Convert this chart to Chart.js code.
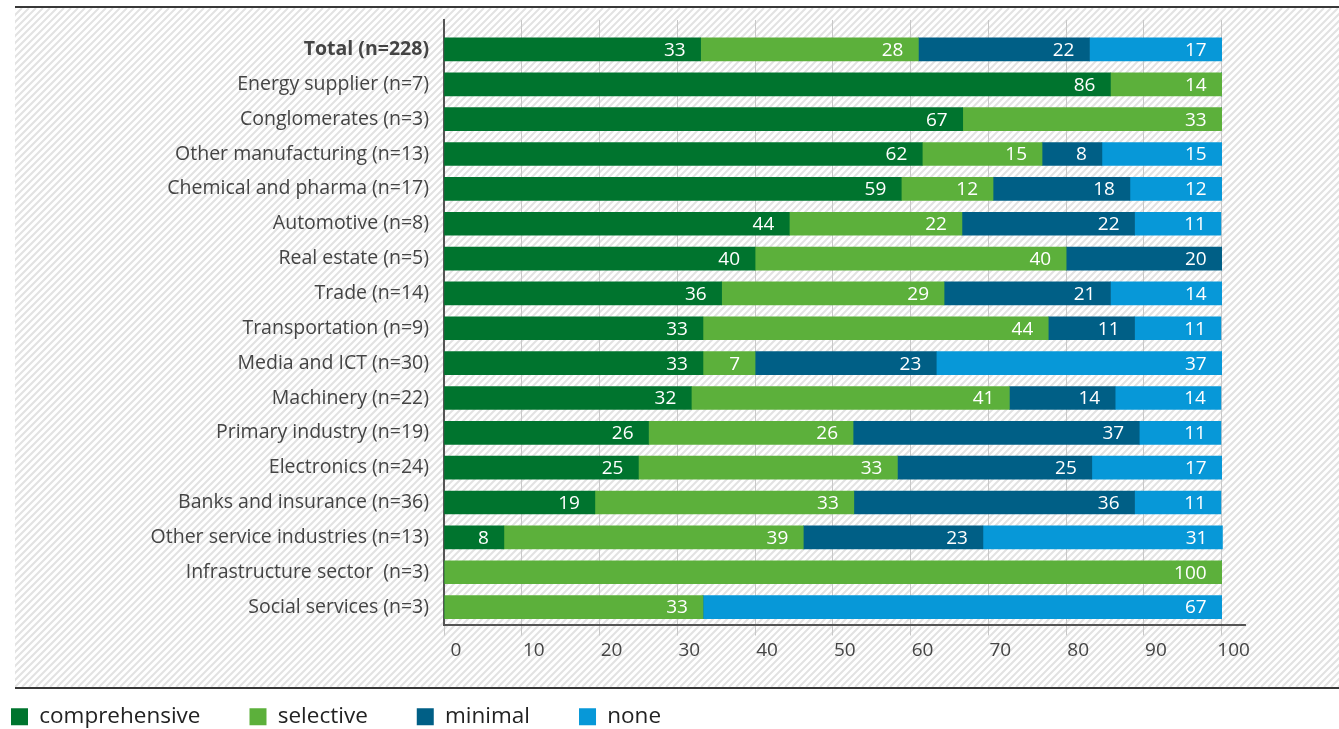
<!DOCTYPE html>
<html>
<head>
<meta charset="utf-8">
<title>Sector chart</title>
<script src="https://cdn.jsdelivr.net/npm/chart.js@4.4.1/dist/chart.umd.min.js"></script>
<style>
  html, body { margin: 0; padding: 0; background: #fff; }
  #wrap { position: relative; width: 1339px; height: 729px; }
</style>
</head>
<body>
<div id="wrap"><canvas id="chart"></canvas></div>
<script>
// categories, top to bottom
const categories = [
  'Total (n=228)',
  'Energy supplier (n=7)',
  'Conglomerates (n=3)',
  'Other manufacturing (n=13)',
  'Chemical and pharma (n=17)',
  'Automotive (n=8)',
  'Real estate (n=5)',
  'Trade (n=14)',
  'Transportation (n=9)',
  'Media and ICT (n=30)',
  'Machinery (n=22)',
  'Primary industry (n=19)',
  'Electronics (n=24)',
  'Banks and insurance (n=36)',
  'Other service industries (n=13)',
  'Infrastructure sector  (n=3)',
  'Social services (n=3)'
];

// shares in percent (labels show the rounded value)
const comprehensive = [33, 85.7, 66.7, 61.5, 58.8, 44.4, 40, 35.7, 33.3, 33.3, 31.8, 26.3, 25, 19.4, 7.7, 0, 0];
const selective     = [28, 14.3, 33.3, 15.4, 11.8, 22.2, 40, 28.6, 44.4, 6.7, 40.9, 26.3, 33.3, 33.3, 38.5, 100, 33.3];
const minimal       = [22, 0, 0, 7.7, 17.6, 22.2, 20, 21.4, 11.1, 23.3, 13.6, 36.8, 25, 36.1, 23.1, 0, 0];
const none          = [17, 0, 0, 15.4, 11.8, 11.1, 0, 14.3, 11.1, 36.7, 13.6, 10.5, 16.7, 11.1, 30.8, 0, 66.7];

const seriesNames = ['comprehensive', 'selective', 'minimal', 'none'];
const seriesValues = [comprehensive, selective, minimal, none];
const seriesColors = ['#00742e', '#5cb03b', '#005f86', '#0798d8'];

const xTicks = [0, 10, 20, 30, 40, 50, 60, 70, 80, 90, 100];

const FONT = '"Open Sans"';

// hatched backdrop and the two rules above and below it
const backdrop = {
  id: 'backdrop',
  beforeDraw(chart) {
    const ctx = chart.ctx;
    const x0 = 15, x1 = chart.width, y0 = 8, y1 = 687;
    const h = y1 - y0;
    ctx.save();
    ctx.fillStyle = '#fff';
    ctx.fillRect(0, 0, chart.width, chart.height);
    ctx.beginPath();
    ctx.rect(x0, y0, x1 - x0, h);
    ctx.clip();
    ctx.strokeStyle = '#e2e2e2';
    ctx.lineWidth = 2;
    for (let k = x0 - h; k < x1; k += 7) {
      ctx.beginPath();
      ctx.moveTo(k, y1);
      ctx.lineTo(k + h, y0);
      ctx.stroke();
    }
    ctx.restore();

    ctx.save();
    ctx.strokeStyle = '#383838';
    ctx.lineWidth = 2;
    ctx.beginPath();
    ctx.moveTo(x0, 7);
    ctx.lineTo(x1, 7);
    ctx.moveTo(x0, 688);
    ctx.lineTo(x1, 688);
    ctx.stroke();
    ctx.restore();
  }
};

// white value labels at the right end of each segment
const segmentLabels = {
  id: 'segmentLabels',
  afterDatasetsDraw(chart) {
    const ctx = chart.ctx;
    ctx.save();
    ctx.font = '19px ' + FONT;
    ctx.fillStyle = '#fff';
    ctx.textAlign = 'right';
    ctx.textBaseline = 'middle';
    chart.data.datasets.forEach((ds, i) => {
      chart.getDatasetMeta(i).data.forEach((bar, j) => {
        const v = ds.data[j].x;
        if (!v) return;
        ctx.fillText(String(Math.round(v)), bar.x - 15, bar.y + 1);
      });
    });
    ctx.restore();
  }
};

new Chart(document.getElementById('chart'), {
  type: 'bar',
  data: {
    datasets: seriesNames.map((name, k) => ({
      label: name,
      data: seriesValues[k].map((v, i) => ({ x: v, y: i })),
      backgroundColor: seriesColors[k],
      borderWidth: 0,
      barThickness: 23
    }))
  },
  options: {
    indexAxis: 'y',
    responsive: true,
    maintainAspectRatio: false,
    animation: false,
    layout: { padding: { left: -38, right: 94, top: 20, bottom: -9 } },
    scales: {
      x: {
        type: 'linear',
        stacked: true,
        min: 0,
        max: 103,
        afterBuildTicks: s => { s.ticks = xTicks.map(v => ({ value: v })); },
        afterFit: s => { s.height = 32; },
        grid: { color: '#c8c8c8', lineWidth: 1, tickLength: 11 },
        border: { color: '#555', width: 2 },
        ticks: {
          autoSkip: false,
          maxRotation: 0,
          padding: 4,
          labelOffset: 12,
          color: '#444',
          font: { family: FONT, size: 19 }
        }
      },
      y: {
        type: 'linear',
        reverse: true,
        stacked: true,
        offset: false,
        min: -0.845,
        max: 16.5,
        afterBuildTicks: s => { s.ticks = categories.map((c, i) => ({ value: i })); },
        afterFit: s => {
          s.width = 482;
          s.paddingTop = 0;
          s.paddingBottom = 0;
        },
        grid: { display: false, drawTicks: false, offset: false },
        border: { display: true, color: '#555', width: 2 },
        ticks: {
          autoSkip: false,
          padding: 15,
          color: '#444',
          font: ctx => ({
            family: FONT,
            size: 19.5,
            weight: ctx.tick && ctx.tick.value === 0 ? 'bold' : 'normal'
          }),
          callback: v => categories[v]
        }
      }
    },
    plugins: {
      legend: {
        position: 'bottom',
        align: 'start',
        labels: {
          boxWidth: 17,
          boxHeight: 17,
          padding: 49,
          color: '#222',
          font: { family: FONT, size: 22.5 }
        }
      },
      tooltip: { enabled: false }
    }
  },
  plugins: [backdrop, segmentLabels]
});
</script>
</body>
</html>
